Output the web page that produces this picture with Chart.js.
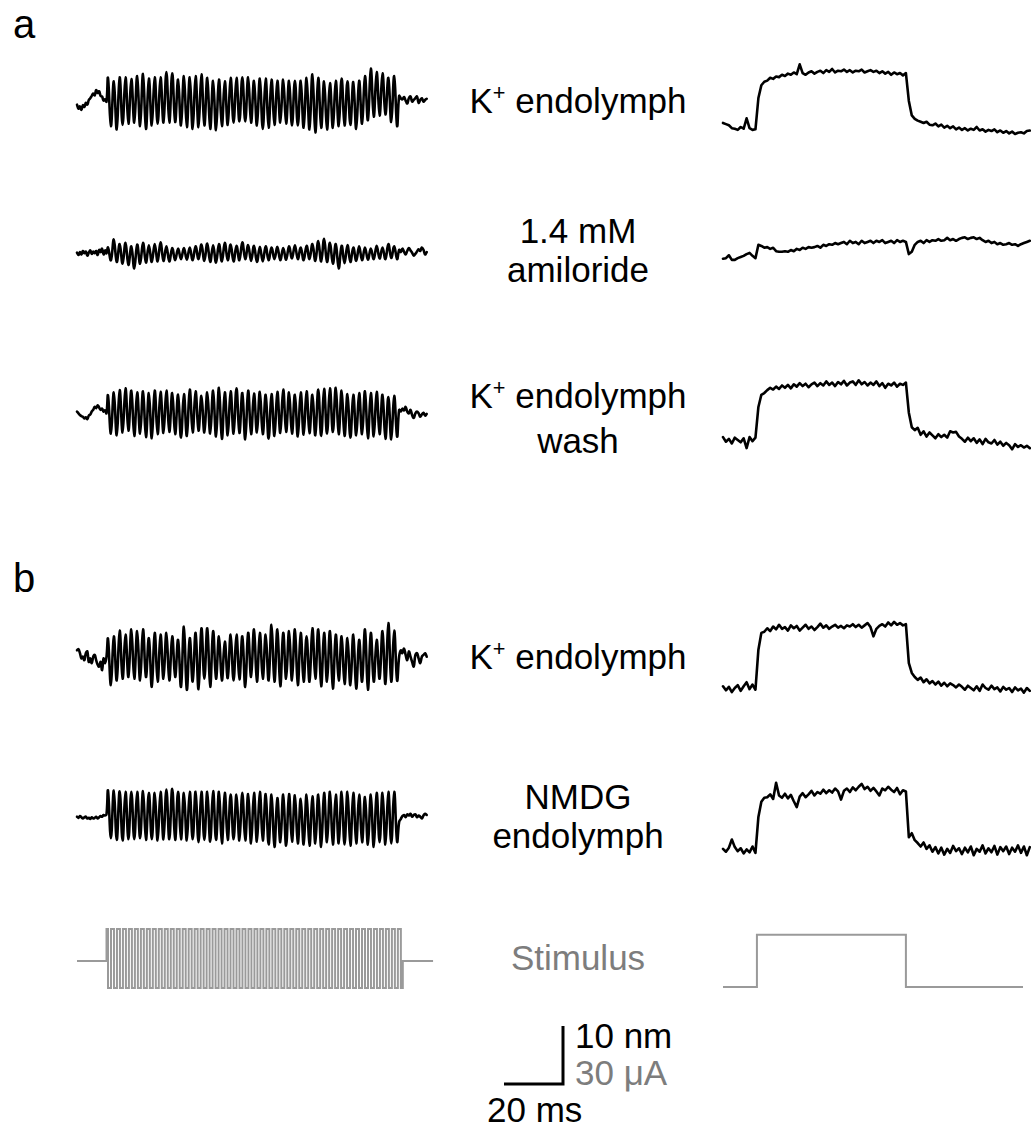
<!DOCTYPE html>
<html><head><meta charset="utf-8">
<script src="https://cdn.jsdelivr.net/npm/chart.js@4/dist/chart.umd.min.js"></script>
<style>
html,body{margin:0;padding:0;background:#fff;}
body{width:1031px;height:1128px;position:relative;overflow:hidden;font-family:"Liberation Sans",Arial,sans-serif;}
.lbl{position:absolute;font-size:35px;line-height:40px;white-space:nowrap;color:#000;}
.c{left:578px;transform:translateX(-50%);text-align:center;}
.g{color:#7d7d7d;}
.sp{font-size:0.62em;position:relative;top:-0.62em;}
canvas{position:absolute;}
</style></head>
<body>
<div class="lbl" style="left:13px;top:4px;font-size:40px">a</div>
<div class="lbl" style="left:13px;top:558px;font-size:40px">b</div>
<div class="lbl c" style="top:81px">K<span class="sp">+</span> endolymph</div>
<div class="lbl c" style="top:211px;line-height:39px">1.4 mM<br>amiloride</div>
<div class="lbl c" style="top:376px;line-height:40px">K<span class="sp">+</span> endolymph<br>wash</div>
<div class="lbl c" style="top:637px">K<span class="sp">+</span> endolymph</div>
<div class="lbl c" style="top:777px;line-height:39px">NMDG<br>endolymph</div>
<div class="lbl c g" style="top:938px">Stimulus</div>
<div class="lbl" style="left:575px;top:1016px">10 nm</div>
<div class="lbl g" style="left:575px;top:1053px">30 μA</div>
<div class="lbl" style="left:487px;top:1090px">20 ms</div>
<script>
// ---------- DATA (time in ms, displacement in nm, current in µA) ----------
// Left (sinusoidal) traces: pre-stimulus noise (0.5 ms steps), oscillation extrema (peak/trough), post-stimulus noise
const a1Pre = [-0.5,-1.2,-0.8,-1.4,-0.6,-0.9,-0.2,-0.5,0.3,0.6,1.0,1.4,1.1,2.0,1.5,1.8,1.0,0.9,0.2,0.4,0.0];
const a1Osc = [4.1,-4.2,3.5,-4.8,4.2,-4.0,4.2,-3.8,3.9,-3.6,4.4,-4.2,4.8,-4.7,4.0,-4.1,4.2,-3.8,4.2,-3.6,
  5.1,-3.6,4.9,-3.5,3.8,-4.1,4.4,-4.4,4.2,-4.7,4.4,-4.4,4.7,-4.1,4.1,-4.7,3.6,-4.9,3.8,-4.2,
  3.5,-4.0,4.1,-3.6,4.1,-3.4,4.2,-3.4,4.2,-3.6,3.6,-4.1,4.0,-4.7,4.0,-4.5,3.8,-4.0,3.6,-3.6,
  3.8,-3.8,3.6,-4.1,3.6,-4.1,3.6,-4.5,4.1,-4.8,4.7,-5.3,4.1,-4.5,3.5,-4.8,3.2,-4.5,3.6,-4.2,
  4.0,-4.1,3.5,-4.0,3.4,-4.7,3.6,-3.8,4.4,-3.2,5.7,-2.6,5.1,-2.4,4.9,-2.2,4.1,-3.5,4.4,-4.2];
const a1Post = [1.0,0.6,0.4,0.8,0.2,-0.3,0.6,0.9,0.0,0.3,0.6,0.9,-0.2,0.3,0.6,0.0,0.3,0.5];

const a2Pre = [0.1,-0.3,0.2,-0.2,0.4,0.0,0.3,-0.4,0.1,0.5,-0.1,0.3,0.0,0.4,-0.3,0.6,0.2,0.8,-0.2,0.5,0.0];
const a2Osc = [1.0,-1.2,2.4,-1.5,1.6,-1.8,1.8,-2.0,1.2,-2.6,1.5,-1.8,1.8,-1.6,1.4,-1.5,1.6,-1.4,1.9,-1.3,
  1.2,-1.4,0.9,-1.2,0.8,-1.0,0.9,-1.1,1.0,-1.2,1.2,-1.0,1.5,-1.3,1.7,-1.5,1.4,-1.6,1.6,-1.4,
  1.8,-1.2,1.5,-1.4,1.3,-1.2,1.9,-1.0,1.4,-1.3,1.3,-1.5,1.1,-1.4,1.2,-1.2,1.0,-1.0,1.1,-1.2,
  0.9,-1.1,1.2,-0.9,1.4,-1.0,1.0,-1.2,1.3,-1.0,1.6,-1.3,2.1,-1.4,2.5,-1.5,1.8,-1.8,1.6,-2.6,
  1.3,-1.7,1.4,-1.5,1.0,-1.3,1.2,-1.2,1.0,-1.1,0.8,-1.0,1.3,-0.9,1.0,-1.0,1.6,-0.8,1.2,-1.0];
const a2Post = [0.6,0.2,0.8,0.3,-0.2,0.4,0.9,0.5,0.1,-0.4,-0.1,0.3,0.7,0.4,1.0,0.6,-0.2,0.2];

const a3Pre = [0.3,0.0,-0.3,-0.5,-0.6,-0.9,-0.7,-1.0,-0.4,-0.2,0.3,0.6,1.1,0.9,1.4,1.0,0.6,0.8,0.3,0.5,0.0];
const a3Osc = [3.1,-3.5,3.6,-3.8,4.0,-3.3,4.3,-3.0,3.9,-3.9,3.6,-3.5,3.8,-4.1,3.5,-4.3,3.9,-3.6,3.7,-3.4,
  3.9,-3.2,3.5,-3.6,3.2,-4.2,3.3,-3.9,4.1,-3.3,3.8,-3.0,3.0,-3.3,3.6,-3.5,3.9,-4.0,4.4,-4.4,
  3.6,-3.8,3.8,-3.5,4.3,-3.4,3.5,-4.5,3.9,-3.6,3.4,-3.3,3.7,-3.6,3.2,-4.4,3.3,-3.9,3.7,-3.4,
  4.1,-3.2,3.6,-3.5,3.2,-4.0,3.6,-3.7,3.8,-3.4,3.2,-3.8,4.1,-3.9,4.2,-3.5,4.3,-3.2,4.4,-3.6,
  3.9,-3.9,3.3,-4.2,3.2,-3.8,3.5,-3.6,3.8,-4.3,3.5,-4.0,3.7,-3.6,3.2,-4.4,2.8,-4.5,3.0,-4.0];
const a3Post = [0.6,0.3,0.8,0.5,1.1,0.3,0.0,0.6,-0.3,-0.8,0.0,0.3,0.0,-0.6,-0.2,0.1,-0.4,-0.1];

const b1Pre = [1.1,1.3,0.6,-0.3,0.0,-0.6,0.6,0.9,-0.9,-0.3,-1.1,0.0,0.3,-0.6,-1.4,-1.7,-0.9,-2.3,-0.3,-1.1,0.0];
const b1Osc = [3.1,-4.9,3.5,-4.1,4.5,-3.8,3.8,-3.5,4.7,-3.8,4.4,-4.1,4.7,-3.5,3.2,-5.2,4.1,-4.3,3.8,-3.8,
  4.1,-4.1,3.5,-3.5,2.9,-5.2,5.2,-5.7,3.2,-4.3,4.1,-5.6,4.9,-3.8,4.9,-5.2,4.4,-3.8,3.5,-4.1,
  2.6,-3.7,3.8,-4.1,3.8,-3.9,3.5,-5.2,4.1,-3.5,4.7,-4.3,4.1,-3.8,3.8,-4.1,5.5,-4.3,4.7,-5.1,
  4.1,-3.8,4.4,-4.1,4.7,-4.9,4.1,-4.3,3.5,-4.3,4.9,-3.8,4.7,-5.1,4.1,-4.3,4.4,-5.5,3.8,-4.1,
  3.5,-4.7,3.2,-4.9,3.8,-5.5,2.9,-4.3,4.7,-5.7,4.1,-4.3,2.9,-3.8,4.4,-4.7,5.8,-4.3,4.5,-4.1];
const b1Post = [0.0,1.1,0.6,1.4,0.3,-0.6,0.9,0.0,-0.9,-1.7,0.3,0.6,-0.3,-1.1,0.0,0.3,0.6,0.0];

const b2Pre = [0.0,-0.2,0.1,-0.1,-0.3,-0.1,0.0,-0.3,-0.2,-0.4,-0.1,-0.3,-0.2,0.0,-0.3,-0.1,0.1,0.0,0.3,0.2,0.4];
const b2Osc = [4.5,-3.7,4.5,-4.0,4.4,-4.1,4.3,-3.9,4.3,-3.9,4.3,-3.7,4.4,-4.0,4.1,-3.9,4.1,-4.1,4.3,-3.9,
  4.7,-3.9,4.8,-4.0,4.3,-3.9,4.1,-4.1,4.3,-3.9,4.3,-4.4,4.3,-4.0,4.3,-4.3,4.4,-4.0,4.3,-4.6,
  4.1,-4.0,3.8,-3.9,3.8,-4.1,4.1,-4.1,3.9,-4.6,4.1,-4.3,4.3,-4.1,3.9,-4.8,3.8,-5.2,3.2,-4.4,
  3.8,-5.0,3.9,-4.3,3.7,-4.6,3.1,-4.8,3.8,-5.0,3.5,-4.6,3.8,-5.2,4.1,-4.4,4.3,-4.8,3.8,-4.6,
  4.3,-4.8,4.3,-5.0,4.1,-4.6,3.8,-4.4,3.4,-4.8,3.8,-5.2,4.1,-4.4,4.1,-4.8,4.3,-4.6,4.3,-4.3];
const b2Post = [-0.9,-0.4,0.1,0.3,-0.1,0.4,0.2,0.5,0.0,0.3,0.4,-0.1,0.2,0.0,-0.3,0.2,0.5,0.3];

// Right (step) traces, sampled every 1 ms from 0 to 104 ms
const a1Step = [0.7,0.5,0.3,-0.2,-0.3,-0.5,0.0,-0.3,1.5,-0.2,-0.5,-0.4,
  5.0,7.2,7.8,8.0,8.5,8.3,8.7,8.6,9.0,
  8.8,9.2,9.0,9.4,9.1,10.8,9.3,9.0,9.4,9.6,
  9.2,9.5,9.7,9.3,9.8,9.5,10.0,9.4,9.7,9.6,
  9.9,9.5,9.8,9.4,9.7,9.6,9.9,9.4,9.6,9.8,
  9.5,9.7,9.3,9.6,9.2,9.5,9.0,9.4,9.1,9.3,8.9,9.3,
  4.5,2.0,1.4,1.1,0.9,0.7,0.9,0.4,
  0.3,0.6,0.1,0.4,-0.1,0.2,-0.2,0.1,-0.4,-0.1,
  -0.5,-0.2,-0.6,-0.3,-0.5,0.0,-0.6,-0.4,-0.8,-0.5,
  -0.7,-0.4,-0.9,-0.6,-1.0,-0.7,-1.1,-0.8,-1.2,-1.0,-0.9,-1.1,-0.7,-0.6];
const a2Step = [-0.3,-0.2,0.3,-0.5,-0.5,-0.2,0.0,0.2,0.5,0.7,0.2,-0.2,
  2.1,1.9,1.6,1.7,1.4,1.6,1.0,0.9,0.9,
  1.0,0.9,1.2,1.0,1.4,1.2,1.6,1.4,1.7,1.6,
  1.7,1.9,1.6,2.1,1.9,2.2,2.1,2.4,2.2,2.4,
  2.6,2.2,2.8,2.4,2.6,2.2,2.8,2.4,2.6,2.8,
  2.4,2.8,2.6,2.9,2.4,2.6,2.8,2.4,2.9,2.6,2.8,2.6,
  0.5,0.9,2.1,2.6,2.8,2.4,2.9,2.6,
  2.9,2.8,3.1,2.8,2.9,3.3,2.9,3.1,2.8,3.1,
  3.3,3.4,3.1,3.3,3.4,3.1,3.3,2.9,2.6,2.8,
  2.4,2.6,2.2,2.4,2.1,2.2,2.4,2.1,2.2,1.9,2.2,2.4,2.6,2.8];
const a3Step = [0.5,-0.3,0.2,-0.6,0.4,0.0,-0.4,0.3,-1.4,0.5,-0.2,0.4,
  5.7,7.8,8.1,8.6,9.0,8.7,9.2,8.8,9.4,
  9.0,9.5,8.9,9.6,9.2,9.8,9.3,9.7,9.1,9.6,
  9.9,9.3,9.8,9.4,10.1,9.5,9.9,9.3,10.0,9.6,
  10.2,9.4,9.9,10.1,9.5,10.3,9.6,10.0,9.4,9.9,
  9.5,10.1,9.3,9.8,9.0,9.7,9.4,9.9,9.2,9.7,9.5,9.9,
  4.7,2.2,1.7,2.1,0.9,1.5,0.6,1.3,
  0.8,0.3,1.0,0.5,0.9,0.4,1.5,1.3,1.4,0.6,
  0.2,-0.3,0.4,-0.2,0.3,-0.5,0.1,-0.7,0.2,-0.4,
  -0.6,0.0,-0.8,-0.3,-1.0,-0.5,-0.9,-1.6,-0.7,-1.2,-0.9,-1.3,-1.0,-1.4];
const b1Step = [0.3,-0.4,0.2,-0.7,0.0,0.5,-0.5,0.3,1.0,-0.2,0.6,-0.3,
  6.6,9.5,9.7,10.3,9.8,10.6,10.1,10.9,10.2,
  10.5,9.9,10.8,10.3,10.7,9.9,10.4,10.9,10.2,10.6,
  10.0,10.5,11.1,10.4,10.8,10.2,10.6,10.9,10.4,10.7,
  10.3,10.8,10.6,11.0,10.5,10.9,10.4,10.8,11.2,10.5,
  8.9,10.2,10.7,11.0,10.6,11.3,10.8,11.4,10.9,11.2,10.8,11.0,
  4.3,2.6,1.9,1.4,1.8,1.0,1.5,0.8,
  1.2,0.6,1.1,0.4,0.9,0.3,0.8,0.5,0.1,0.6,
  0.2,-0.3,0.4,0.0,-0.4,0.3,-0.5,0.6,0.0,-0.3,
  0.4,-0.2,0.1,-0.6,0.2,-0.3,0.0,-0.7,0.1,-0.4,-0.1,-0.8,0.0,-0.5];
const b2Step = [0.2,-0.3,0.4,1.8,0.5,-0.2,0.3,-0.6,0.1,-0.4,0.6,-0.5,
  5.7,8.3,9.0,9.1,9.6,8.8,11.6,9.4,9.0,
  9.7,8.9,9.5,8.4,7.4,9.2,9.8,9.1,9.6,10.2,
  9.4,10.0,9.7,10.4,9.8,10.3,9.9,10.6,10.1,8.7,
  10.2,10.6,10.0,10.8,10.3,10.9,11.4,10.5,10.9,10.2,
  10.7,10.1,9.4,10.6,10.3,10.9,10.4,10.0,10.7,9.6,10.3,10.1,
  2.2,2.9,1.7,1.2,0.6,1.3,0.2,0.8,
  -0.3,0.5,-0.6,0.4,-0.8,0.2,-0.5,0.7,-0.2,0.3,
  -0.7,0.4,-0.4,0.6,-0.9,0.2,-0.3,0.8,-0.6,0.3,
  -0.4,0.7,-0.8,0.5,-0.2,0.6,-0.7,0.4,-0.3,0.8,-0.5,0.6,-0.9,0.5];

// Stimulus (µA): sinusoidal drive extrema (50 cycles) and step
const stimSineExtrema = [16.5,-14,16.5,-14,16.5,-14,16.5,-14,16.5,-14,16.5,-14,16.5,-14,16.5,-14,16.5,-14,16.5,-14,
  16.5,-14,16.5,-14,16.5,-14,16.5,-14,16.5,-14,16.5,-14,16.5,-14,16.5,-14,16.5,-14,16.5,-14,
  16.5,-14,16.5,-14,16.5,-14,16.5,-14,16.5,-14,16.5,-14,16.5,-14,16.5,-14,16.5,-14,16.5,-14,
  16.5,-14,16.5,-14,16.5,-14,16.5,-14,16.5,-14,16.5,-14,16.5,-14,16.5,-14,16.5,-14,16.5,-14,
  16.5,-14,16.5,-14,16.5,-14,16.5,-14,16.5,-14,16.5,-14,16.5,-14,16.5,-14,16.5,-14,16.5,-14];
const stimSineTimes = {start:0, on:10.0, step:1.013, off:110.6, end:120.7};
const stimStepT = [0, 11.5, 11.5, 62, 62, 101.7];
const stimStepI = [0, 0, 27, 27, 0, 0];

// Scale bar: 20 ms horizontal, 10 nm vertical
const scaleBarT = [0, 20, 20];
const scaleBarY = [0, 0, 10];

// ---------- DRAWING ----------
const PX_MS = 2.95, PX_NM = 5.8, PX_UA = 58/30;
const seg = (vals, t0, dt) => vals.map((v,i)=>({x:t0+i*dt, y:v}));
const leftPts = (pre, osc, post) => [...seg(pre,0,0.5), ...seg(osc,10.5,0.99), ...seg(post,109.2,0.55)];

function draw(box, x0, y0, pxY, datasets){
  const c = document.createElement('canvas');
  c.width = box.w; c.height = box.h;
  c.style.left = box.l+'px'; c.style.top = box.t+'px';
  c.style.width = box.w+'px'; c.style.height = box.h+'px';
  document.body.appendChild(c);
  new Chart(c, {type:'line', data:{datasets},
    options:{responsive:false, animation:false, devicePixelRatio:1, events:[],
      layout:{padding:0},
      plugins:{legend:{display:false}, tooltip:{enabled:false}},
      scales:{
        x:{type:'linear', display:false, min:(box.l-x0)/PX_MS, max:(box.l+box.w-x0)/PX_MS},
        y:{type:'linear', display:false, min:(y0-box.t-box.h)/pxY, max:(y0-box.t)/pxY}
      }}});
}
const trace = (data, tension) => ({data, borderColor:'#000', borderWidth:2.6, pointRadius:0,
  tension, fill:false, clip:false, borderJoinStyle:'round', borderCapStyle:'round'});
const stim = (data, stepped) => ({data, borderColor:'#9a9a9a', borderWidth:2, pointRadius:0,
  tension:0, stepped, fill:false, clip:false, borderJoinStyle:'miter'});

const LX = 77, RX = 723;
const leftBox = t => ({l:55, t:t, w:400, h:130});
const rightBox = t => ({l:705, t:t, w:326, h:130});

draw(leftBox(37), LX, 101.7, PX_NM, [trace(leftPts(a1Pre,a1Osc,a1Post),0.4)]);
draw(leftBox(188), LX, 253.3, PX_NM, [trace(leftPts(a2Pre,a2Osc,a2Post),0.4)]);
draw(leftBox(348), LX, 413.3, PX_NM, [trace(leftPts(a3Pre,a3Osc,a3Post),0.4)]);
draw(leftBox(592), LX, 656.7, PX_NM, [trace(leftPts(b1Pre,b1Osc,b1Post),0.4)]);
draw(leftBox(752), LX, 816.7, PX_NM, [trace(leftPts(b2Pre,b2Osc,b2Post),0.4)]);

draw(rightBox(40), RX, 127, PX_NM, [trace(seg(a1Step,0,1),0)]);
draw(rightBox(185), RX, 257, PX_NM, [trace(seg(a2Step,0,1),0)]);
draw(rightBox(350), RX, 440, PX_NM, [trace(seg(a3Step,0,1),0)]);
draw(rightBox(598), RX, 688, PX_NM, [trace(seg(b1Step,0,1),0)]);
draw(rightBox(760), RX, 850, PX_NM, [trace(seg(b2Step,0,1),0)]);

const stimLeft = [{x:stimSineTimes.start,y:0},{x:stimSineTimes.on,y:0},
  ...seg(stimSineExtrema, stimSineTimes.on, stimSineTimes.step),
  {x:stimSineTimes.off,y:0},{x:stimSineTimes.end,y:0}];
draw({l:55, t:900, w:400, h:110}, LX, 961, PX_UA, [stim(stimLeft,'middle')]);
draw({l:705, t:910, w:326, h:100}, RX, 987, PX_UA, [stim(stimStepT.map((t,i)=>({x:t,y:stimStepI[i]})),false)]);

draw({l:490, t:1010, w:90, h:90}, 504, 1084, PX_NM, [{data:scaleBarT.map((t,i)=>({x:t,y:scaleBarY[i]})),
  borderColor:'#000', borderWidth:3, pointRadius:0, tension:0, fill:false, clip:false,
  borderJoinStyle:'miter', borderCapStyle:'butt'}]);
</script>
</body></html>
